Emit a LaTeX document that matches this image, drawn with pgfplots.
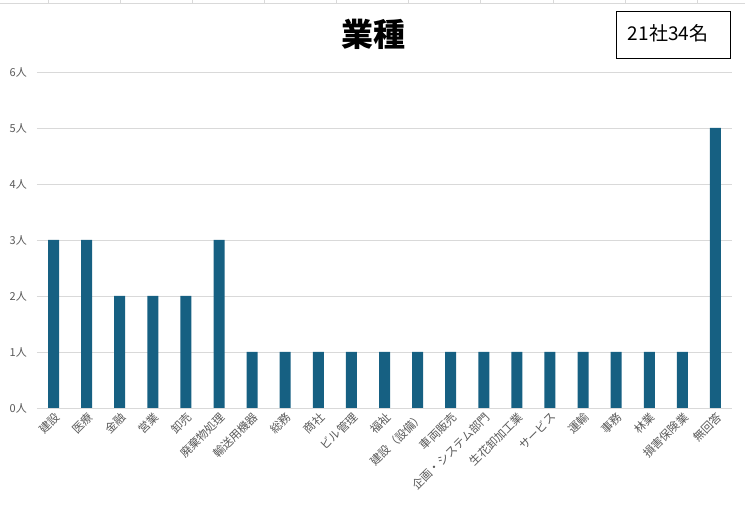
\documentclass[border=0pt]{standalone}
\usepackage{fontspec}
\setmainfont{Noto Sans CJK JP}
\usepackage{pgfplots}
\pgfplotsset{compat=1.18}
\definecolor{barblue}{RGB}{22,96,130}
\definecolor{gridgray}{RGB}{217,217,217}
\definecolor{labgray}{RGB}{89,89,89}
\begin{document}
\begin{tikzpicture}[x=1pt,y=1pt]
\useasboundingbox (0,0) rectangle (745,513);
% faint spreadsheet cell lines at the top
\draw[gridgray,line width=0.8pt] (0,510) -- (745,510);
\foreach \xx in {48,120,192,264,336,408,480,553,625,697}
  \draw[gridgray,line width=0.8pt] (\xx,510) -- (\xx,513);
\begin{axis}[
    at={(37pt,105pt)}, anchor=south west,
    scale only axis,
    width=695pt, height=336pt,
    xmin=-0.5, xmax=20.5,
    ymin=0, ymax=6,
    ytick={0,1,...,6},
    yticklabel={\pgfmathprintnumber{\tick}人},
    xtick=data,
    xticklabels={建設,医療,金融,営業,卸売,廃棄物処理,輸送用機器,総務,商社,ビル管理,福祉,建設（設備）,車両販売,企画・システム部門,生花卸加工業,サービス,運輸,事務,林業,損害保険業,無回答},
    x tick label style={rotate=45, anchor=north east, font=\fontsize{11.5}{13}\selectfont, text=labgray, inner sep=2pt},
    y tick label style={font=\fontsize{11}{13}\selectfont, text=labgray, inner sep=2pt, xshift=-8pt},
    /pgf/number format/assume math mode=true,
    axis x line*=bottom,
    axis y line*=left,
    y axis line style={draw=none},
    x axis line style={gridgray, line width=0.8pt},
    ymajorgrids,
    grid style={gridgray, line width=0.6pt},
    major tick length=0pt,
    ybar, bar width=11pt,
]
\addplot[fill=barblue, draw=none] coordinates {
(0,3) (1,3) (2,2) (3,2) (4,2) (5,3) (6,1) (7,1) (8,1) (9,1) (10,1)
(11,1) (12,1) (13,1) (14,1) (15,1) (16,1) (17,1) (18,1) (19,1) (20,5)
};
\end{axis}
\node[font=\fontsize{32}{36}\selectfont\bfseries] at (373,479) {業種};
\draw[black, line width=0.8pt] (616,455) rectangle (730,502);
\node[font=\fontsize{19}{22}\selectfont] at (668,480) {21社34名};
\end{tikzpicture}
\end{document}
